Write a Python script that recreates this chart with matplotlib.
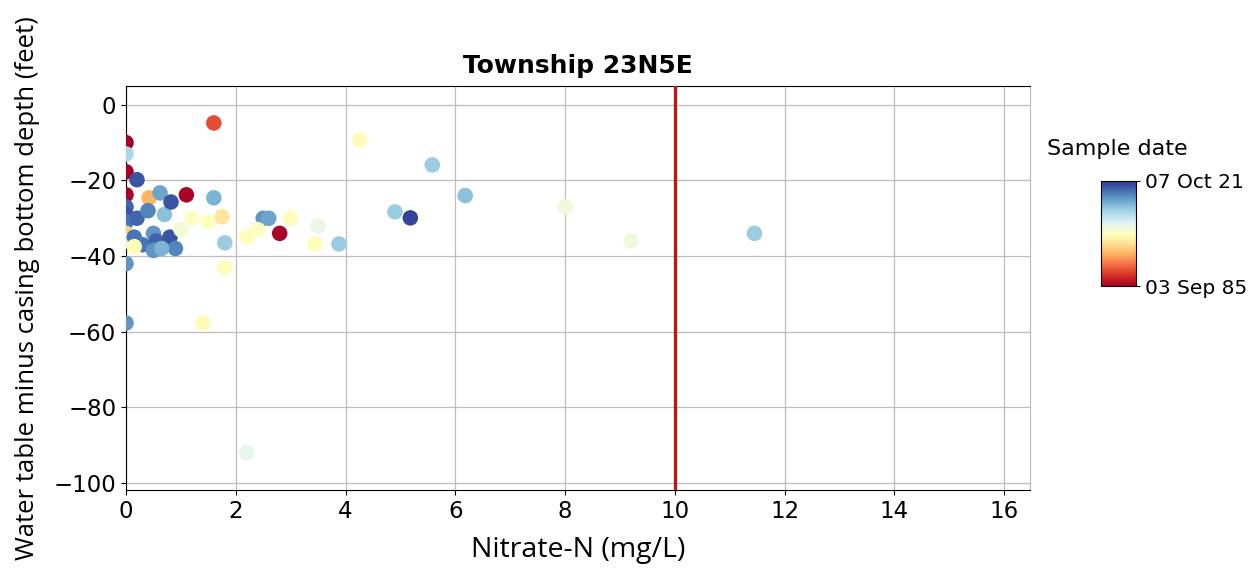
import matplotlib
matplotlib.use("Agg")
import matplotlib.pyplot as plt
import matplotlib.dates as mdates
import numpy as np
from datetime import datetime

# ---- data ----
nitrate = [0.0, 0.0, 0.0, 0.0, 0.0, 0.0, 0.0, 0.0, 0.0, 0.0, 0.0,
           0.2, 0.2, 0.15, 0.3, 0.42, 0.4, 0.5, 0.55, 0.5, 0.62, 0.7,
           0.82, 0.8, 0.9, 0.65, 1.1, 1.6, 1.6, 2.5, 2.6, 2.8, 1.8,
           1.2, 1.5, 1.75, 2.2, 2.4, 3.0, 3.44, 3.5, 3.88, 1.4, 1.8,
           2.2, 4.26, 5.58, 6.18, 4.9, 5.18, 8.0, 9.2, 11.45, 1.0, 0.15]
depth = [-10, -13, -17.7, -23.8, -27, -29, -31, -34, -36, -42, -57.7,
         -19.8, -30, -35, -37, -24.6, -28, -34, -36, -38.5, -23.3, -29,
         -25.7, -35, -38, -38, -23.8, -24.6, -4.8, -30, -30, -34, -36.5,
         -30, -31, -29.6, -35, -33, -30, -36.8, -32, -36.8, -57.7, -43,
         -92, -9.3, -15.9, -24, -28.3, -29.9, -27, -36, -34, -33, -37.5]
sample_year = [1985.8, 2011, 1985.8, 1986, 2019, 2020, 2018, 1999, 2003.5, 2016, 2016,
               2020, 2019, 2018, 2018, 1997, 2017, 2016, 2019, 2016, 2015, 2013,
               2020, 2020, 2017, 2014, 1986, 2014, 1991, 2016, 2015, 1986, 2012,
               2004, 2004, 2001, 2003.5, 2004, 2003.5, 2003.5, 2006, 2012, 2003.3, 2003.5,
               2006.5, 2003.3, 2012, 2013, 2012, 2021, 2005.5, 2005.5, 2012, 2005, 2003.3]
date_min = "1985-09-03"
date_max = "2021-10-07"
mcl_limit = 10
title = "Township 23N5E"
xlabel = "Nitrate-N (mg/L)"
ylabel = "Water table minus casing bottom depth (feet)"
cbar_title = "Sample date"


def year_to_num(y):
    yr = int(y)
    frac = y - yr
    start = mdates.date2num(datetime(yr, 1, 1))
    end = mdates.date2num(datetime(yr + 1, 1, 1))
    return start + frac * (end - start)


dnum = np.array([year_to_num(y) for y in sample_year])
vmin = mdates.date2num(datetime.fromisoformat(date_min))
vmax = mdates.date2num(datetime.fromisoformat(date_max))
dnum = np.clip(dnum, vmin, vmax)

fig = plt.figure(figsize=(12.55, 5.69), dpi=100)
ax = fig.add_axes([0.1004, 0.138, 0.7203, 0.711])

ax.grid(True, color="#bdbdbd", linewidth=0.9, zorder=0)
ax.set_axisbelow(True)
sc = ax.scatter(nitrate, depth, c=dnum, cmap="RdYlBu", vmin=vmin, vmax=vmax,
                s=125, edgecolors="none", zorder=3)
ax.axvline(mcl_limit, color="#b81818", linewidth=2.4, zorder=4)

ax.set_xlim(0, 16.47)
ax.set_ylim(-102, 5)
ax.set_xticks(np.arange(0, 17, 2))
ax.set_yticks(np.arange(-100, 1, 20))
ax.tick_params(labelsize=16.5)
ax.spines["right"].set_color("#bbbbbb")

ax.set_title(title, fontsize=18, fontweight="bold", pad=9)
ax.set_xlabel(xlabel, fontsize=20.5, family="Open Sans", labelpad=9)
ax.set_ylabel(ylabel, fontsize=18.5, family="Open Sans", labelpad=10)

cax = fig.add_axes([1101 / 1255, 1 - 286 / 569, 35 / 1255, 105 / 569])
cb = fig.colorbar(sc, cax=cax)
cb.set_ticks([vmin, vmax])
cb.set_ticklabels([datetime.fromisoformat(date_min).strftime("%d %b %y"),
                   datetime.fromisoformat(date_max).strftime("%d %b %y")])
cb.ax.tick_params(labelsize=14.5, length=3)
fig.text(1047 / 1255, 1 - 149 / 569, cbar_title, fontsize=16, va="center", ha="left")

fig.savefig("out.png", dpi=100)
